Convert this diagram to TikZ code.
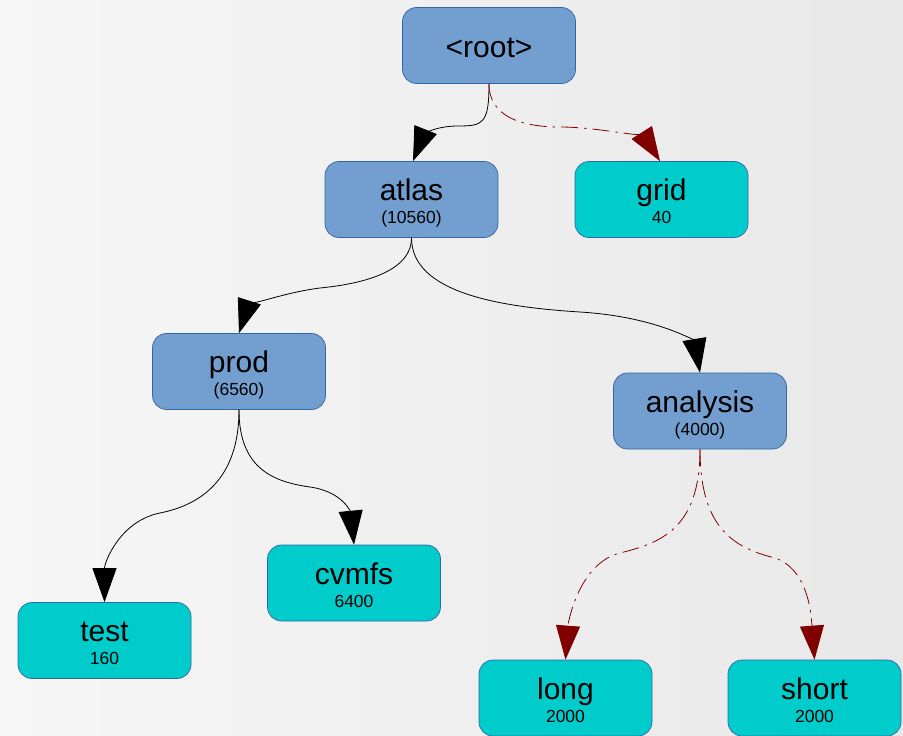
\documentclass[tikz,border=0pt]{standalone}
\usepackage{fontspec}
\setmainfont{Liberation Sans}
\usetikzlibrary{arrows.meta}
\definecolor{boxblue}{HTML}{729FCF}
\definecolor{boxcyan}{HTML}{00CCCC}
\definecolor{boxline}{HTML}{3465A4}
\definecolor{darkred}{HTML}{800000}
\tikzset{
  box/.style={draw=boxline, line width=0.7pt, rounded corners=14pt, minimum width=173pt, minimum height=76pt, inner sep=0pt},
  bluebox/.style={box, fill=boxblue},
  cyanbox/.style={box, fill=boxcyan},
  nametext/.style={anchor=base, inner sep=0pt, font=\fontsize{30}{30}\selectfont},
  counttext/.style={anchor=base, inner sep=0pt, font=\fontsize{17.5}{18}\selectfont},
  edge/.style={line width=0.8pt, -{Triangle[length=34pt,width=24pt]}},
  dedge/.style={line width=0.8pt, draw=darkred, -{Triangle[length=34pt,width=24pt,fill=darkred]}, dash pattern=on 17pt off 6pt on 2.5pt off 6pt},
}
\begin{document}
\begin{tikzpicture}[x=1pt,y=-1pt]
\useasboundingbox (0,0) rectangle (903,736);
\shade[left color=white!96.5!black, right color=white!91!black] (0,0) rectangle (903,736);
% nodes
\node[bluebox] (root) at (489,45.5) {};
\node[anchor=base, inner sep=0pt, font=\fontsize{30}{30}\selectfont] (rootn) at (489,57) {<root>};

\node[bluebox] (atlas) at (411.5,199.5) {};
\node[nametext] (atlasn) at (411.5,200.5) {atlas};
\node[counttext] (atlasc) at (411.5,223.5) {(10560)};

\node[cyanbox] (grid) at (661.5,199.5) {};
\node[nametext] (gridn) at (661.5,200.5) {grid};
\node[counttext] (gridc) at (661.5,223.5) {40};

\node[bluebox] (prod) at (239,371.5) {};
\node[nametext] (prodn) at (239,372.5) {prod};
\node[counttext] (prodc) at (239,395.5) {(6560)};

\node[bluebox] (analysis) at (700,411) {};
\node[nametext] (analysisn) at (700,412) {analysis};
\node[counttext] (analysisc) at (700,435) {(4000)};

\node[cyanbox] (test) at (104.5,640.5) {};
\node[nametext] (testn) at (104.5,641.5) {test};
\node[counttext] (testc) at (104.5,664.5) {160};

\node[cyanbox] (cvmfs) at (354,583) {};
\node[nametext] (cvmfsn) at (354,584) {cvmfs};
\node[counttext] (cvmfsc) at (354,607) {6400};

\node[cyanbox] (long) at (565.5,698) {};
\node[nametext] (longn) at (565.5,699) {long};
\node[counttext] (longc) at (565.5,722) {2000};

\node[cyanbox] (short) at (814.5,698) {};
\node[nametext] (shortn) at (814.5,699) {short};
\node[counttext] (shortc) at (814.5,722) {2000};

% edges
\draw[edge] (root.south) .. controls +(0,40) and +(25,0) .. (458,126) .. controls +(-25,0) and +(10,-25) .. ([xshift=1.5pt]atlas.north);
\draw[dedge] (root.south) .. controls +(0,32) and +(-40,0) .. (560,127) .. controls +(40,0) and +(-14,-22) .. ([xshift=-1.5pt]grid.north);
\draw[edge] (atlas.south) .. controls +(0,38) and +(30,-3) .. (320,288) .. controls +(-40,5) and +(8,-25) .. (prod.north);
\draw[edge] (atlas.south) .. controls +(0,55) and +(-80,-5) .. (580,312) .. controls +(80,5) and +(-5,-30) .. (analysis.north);
\draw[edge] (prod.south) .. controls +(0,70) and +(40,-8) .. (160,513) .. controls +(-40,8) and +(0,-40) .. (test.north);
\draw[edge] (prod.south) .. controls +(0,60) and +(-35,-5) .. (310,487) .. controls +(35,5) and +(-3,-30) .. (cvmfs.north);
\draw[dedge] (analysis.south) .. controls +(0,80) and +(40,-10) .. (620,553) .. controls +(-40,10) and +(3,-40) .. (long.north);
\draw[dedge] (analysis.south) .. controls +(0,80) and +(-40,-10) .. (775,558) .. controls +(35,12) and +(-3,-40) .. (short.north);
\end{tikzpicture}
\end{document}
